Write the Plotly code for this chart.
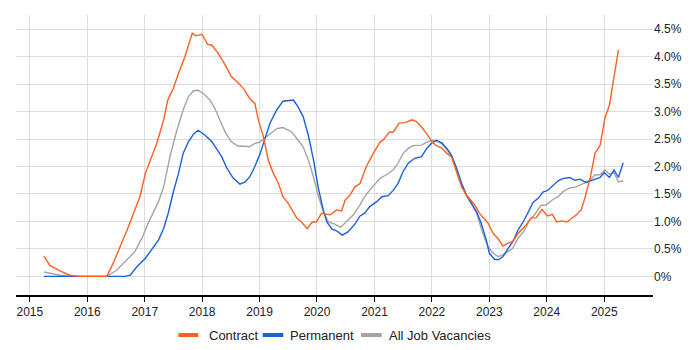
import plotly.graph_objects as go

# ---------------- data (percent of vacancies) ----------------
contract_dates = [
    "2015-04-01", "2015-05-08", "2015-07-12", "2015-09-12", "2015-11-14", "2016-05-05",
    "2016-06-14", "2016-07-28", "2016-09-10", "2016-12-01", "2017-01-05", "2017-03-18",
    "2017-05-01", "2017-05-27", "2017-07-01", "2017-08-04", "2017-09-13", "2017-10-30",
    "2017-11-21", "2018-01-01", "2018-02-03", "2018-03-04", "2018-04-13", "2018-05-27",
    "2018-07-06", "2018-08-19", "2018-09-21", "2018-10-30", "2018-12-02", "2018-12-24",
    "2019-01-26", "2019-02-25", "2019-03-29", "2019-05-01", "2019-05-30", "2019-07-02",
    "2019-08-26", "2019-09-24", "2019-10-31", "2019-12-02", "2019-12-28", "2020-01-30",
    "2020-03-25", "2020-05-04", "2020-06-06", "2020-06-28", "2020-07-27", "2020-08-29",
    "2020-10-01", "2020-11-10", "2020-12-24", "2021-02-06", "2021-02-24", "2021-04-06",
    "2021-05-01", "2021-06-07", "2021-07-13", "2021-08-29", "2021-09-24", "2021-10-27",
    "2021-11-29", "2022-01-01", "2022-02-03", "2022-03-04", "2022-04-06", "2022-05-05",
    "2022-06-07", "2022-07-09", "2022-08-08", "2022-10-01", "2022-10-30", "2022-12-24",
    "2023-01-26", "2023-02-25", "2023-03-29", "2023-05-01", "2023-05-30", "2023-07-02",
    "2023-08-22", "2023-09-24", "2023-10-27", "2023-12-02", "2024-01-05", "2024-02-07",
    "2024-03-04", "2024-04-06", "2024-05-08", "2024-06-07", "2024-07-09", "2024-08-08",
    "2024-09-02", "2024-10-05", "2024-11-03", "2024-12-06", "2025-01-05", "2025-02-03",
    "2025-03-01", "2025-04-01",
]
contract_values = [
    0.37, 0.20, 0.10, 0.02, 0.00, 0.00,
    0.24, 0.54, 0.84, 1.45, 1.88, 2.42,
    2.85, 3.21, 3.42, 3.70, 4.00, 4.43,
    4.38, 4.41, 4.23, 4.21, 4.06, 3.85,
    3.64, 3.52, 3.42, 3.24, 3.15, 2.85,
    2.54, 2.12, 1.88, 1.69, 1.45, 1.33,
    1.06, 0.99, 0.87, 0.99, 0.99, 1.15,
    1.12, 1.21, 1.19, 1.39, 1.47, 1.63,
    1.69, 2.00, 2.24, 2.45, 2.48, 2.63,
    2.63, 2.79, 2.80, 2.85, 2.82, 2.72,
    2.60, 2.45, 2.37, 2.34, 2.24, 2.18,
    1.88, 1.63, 1.48, 1.30, 1.15, 0.97,
    0.78, 0.69, 0.55, 0.61, 0.63, 0.78,
    0.93, 1.06, 1.07, 1.22, 1.10, 1.13,
    0.99, 1.01, 0.99, 1.06, 1.12, 1.22,
    1.45, 1.81, 2.24, 2.39, 2.88, 3.12,
    3.61, 4.12,
]

permanent_dates = [
    "2015-04-01", "2016-08-28", "2016-10-01", "2016-11-10", "2017-01-05", "2017-02-14",
    "2017-03-29", "2017-05-01", "2017-05-30", "2017-07-02", "2017-08-04", "2017-09-02",
    "2017-10-05", "2017-11-07", "2017-12-06", "2018-01-19", "2018-03-04", "2018-04-01",
    "2018-05-05", "2018-06-07", "2018-07-17", "2018-08-29", "2018-10-01", "2018-10-30",
    "2018-12-02", "2019-01-05", "2019-02-07", "2019-03-08", "2019-04-20", "2019-05-30",
    "2019-08-04", "2019-09-02", "2019-10-05", "2019-11-07", "2019-12-10", "2020-01-08",
    "2020-02-10", "2020-03-04", "2020-04-06", "2020-05-05", "2020-06-10", "2020-07-16",
    "2020-08-29", "2020-10-01", "2020-10-30", "2020-12-02", "2021-01-15", "2021-02-17",
    "2021-03-29", "2021-05-01", "2021-05-30", "2021-07-02", "2021-08-04", "2021-09-13",
    "2021-10-27", "2021-11-29", "2022-01-01", "2022-01-30", "2022-03-04", "2022-04-06",
    "2022-05-05", "2022-06-07", "2022-07-09", "2022-08-08", "2022-09-10", "2022-10-12",
    "2022-11-10", "2022-12-13", "2023-01-01", "2023-02-03", "2023-02-28", "2023-03-29",
    "2023-05-01", "2023-05-30", "2023-07-02", "2023-08-04", "2023-09-02", "2023-10-05",
    "2023-11-07", "2023-12-10", "2024-01-05", "2024-02-10", "2024-03-14", "2024-04-12",
    "2024-05-27", "2024-06-28", "2024-07-31", "2024-09-06", "2024-10-05", "2024-11-14",
    "2024-12-06", "2025-01-01", "2025-02-03", "2025-03-04", "2025-04-01", "2025-05-01",
]
permanent_values = [
    0.00, 0.00, 0.02, 0.17, 0.33, 0.48,
    0.66, 0.87, 1.15, 1.54, 1.88, 2.24,
    2.45, 2.59, 2.66, 2.57, 2.45, 2.33,
    2.18, 1.97, 1.79, 1.68, 1.72, 1.81,
    2.00, 2.24, 2.54, 2.79, 3.03, 3.19,
    3.21, 3.09, 2.91, 2.57, 2.12, 1.63,
    1.21, 0.99, 0.86, 0.83, 0.75, 0.81,
    0.95, 1.10, 1.15, 1.27, 1.36, 1.45,
    1.47, 1.57, 1.69, 1.91, 2.06, 2.15,
    2.18, 2.33, 2.43, 2.48, 2.43, 2.33,
    2.21, 1.97, 1.69, 1.48, 1.33, 1.18,
    0.97, 0.66, 0.42, 0.31, 0.30, 0.36,
    0.51, 0.63, 0.84, 0.99, 1.15, 1.34,
    1.42, 1.54, 1.56, 1.66, 1.74, 1.78,
    1.80, 1.75, 1.77, 1.71, 1.74, 1.77,
    1.80, 1.89, 1.80, 1.94, 1.80, 2.07,
]

all_dates = [
    "2015-04-01", "2015-07-12", "2015-10-05", "2016-05-05", "2016-07-05", "2016-09-10",
    "2016-10-30", "2016-12-13", "2017-01-23", "2017-03-29", "2017-05-01", "2017-06-10",
    "2017-07-24", "2017-09-02", "2017-10-05", "2017-11-07", "2017-12-06", "2018-01-08",
    "2018-02-21", "2018-03-22", "2018-04-24", "2018-05-27", "2018-07-05", "2018-08-19",
    "2018-10-01", "2018-10-30", "2018-12-02", "2019-01-05", "2019-02-07", "2019-03-08",
    "2019-04-20", "2019-05-30", "2019-07-24", "2019-08-26", "2019-10-05", "2019-11-07",
    "2019-12-10", "2020-01-08", "2020-02-10", "2020-03-14", "2020-04-24", "2020-05-30",
    "2020-07-05", "2020-08-19", "2020-10-01", "2020-10-30", "2020-12-02", "2021-01-05",
    "2021-02-07", "2021-03-18", "2021-05-01", "2021-05-30", "2021-07-02", "2021-08-04",
    "2021-09-02", "2021-10-27", "2021-12-02", "2022-01-08", "2022-03-04", "2022-04-06",
    "2022-05-05", "2022-06-07", "2022-07-09", "2022-08-08", "2022-09-10", "2022-10-12",
    "2022-11-21", "2022-12-24", "2023-01-26", "2023-02-25", "2023-03-29", "2023-05-01",
    "2023-05-30", "2023-07-02", "2023-08-15", "2023-09-13", "2023-10-16", "2023-11-24",
    "2023-12-28", "2024-02-10", "2024-03-14", "2024-04-12", "2024-05-27", "2024-07-05",
    "2024-08-08", "2024-09-13", "2024-10-12", "2024-11-03", "2024-12-06", "2025-01-05",
    "2025-02-03", "2025-03-04", "2025-04-01", "2025-05-01",
]
all_values = [
    0.08, 0.02, 0.00, 0.00, 0.11, 0.30,
    0.45, 0.69, 0.97, 1.36, 1.63, 2.18,
    2.66, 3.03, 3.27, 3.38, 3.39, 3.33,
    3.21, 3.06, 2.85, 2.63, 2.45, 2.37,
    2.37, 2.36, 2.42, 2.45, 2.53, 2.60,
    2.69, 2.71, 2.63, 2.51, 2.36, 2.12,
    1.81, 1.48, 1.18, 0.99, 0.95, 0.89,
    0.99, 1.12, 1.30, 1.45, 1.57, 1.69,
    1.79, 1.85, 1.94, 2.06, 2.24, 2.33,
    2.38, 2.39, 2.45, 2.48, 2.42, 2.31,
    2.19, 1.95, 1.68, 1.48, 1.32, 1.15,
    0.78, 0.54, 0.42, 0.36, 0.39, 0.45,
    0.51, 0.69, 0.84, 1.03, 1.12, 1.29,
    1.30, 1.40, 1.45, 1.54, 1.61, 1.63,
    1.68, 1.72, 1.78, 1.85, 1.85, 1.94,
    1.86, 1.89, 1.72, 1.74,
]

series_names = ["Contract", "Permanent", "All Job Vacancies"]
y_tick_values = [0, 0.5, 1.0, 1.5, 2.0, 2.5, 3.0, 3.5, 4.0, 4.5]
y_tick_labels = ["0%", "0.5%", "1.0%", "1.5%", "2.0%", "2.5%", "3.0%", "3.5%", "4.0%", "4.5%"]

# ---------------- styling ----------------
colors = {"Contract": "#ff5f1f", "Permanent": "#1a5fe0", "All Job Vacancies": "#a4a4a4"}
FONT = "Liberation Sans, Arial, sans-serif"

fig = go.Figure()

series = [
    ("All Job Vacancies", all_dates, all_values),
    ("Permanent", permanent_dates, permanent_values),
    ("Contract", contract_dates, contract_values),
]
for name, xs, ys in series:
    fig.add_trace(go.Scatter(
        x=xs, y=ys, mode="lines", name=name, showlegend=False,
        line=dict(color=colors[name], width=1.4),
        hoverinfo="x+y+name",
    ))

# custom legend below the plot: short thick swatch + label (paper coordinates)
legend_y = -0.143
swatch_x = {"Contract": (0.2548, 0.2862), "Permanent": (0.3873, 0.4196),
            "All Job Vacancies": (0.5416, 0.5741)}
label_x = {"Contract": 0.3003, "Permanent": 0.4270, "All Job Vacancies": 0.5819}
for name in series_names:
    x0, x1 = swatch_x[name]
    fig.add_shape(type="line", xref="paper", yref="paper",
                  x0=x0, x1=x1, y0=legend_y, y1=legend_y,
                  line=dict(color=colors[name], width=4))
    fig.add_annotation(xref="paper", yref="paper", x=label_x[name], y=legend_y,
                       text=name, showarrow=False, xanchor="left", yanchor="middle",
                       font=dict(family=FONT, size=13, color="#222"))

# page body has an 8px margin, so the figure is sized to the visible area
fig.update_layout(
    width=692, height=342,
    margin=dict(l=8, r=47, t=7, b=55, autoexpand=False),
    paper_bgcolor="white", plot_bgcolor="white",
    font=dict(family=FONT, size=12, color="#222"),
    showlegend=False,
    xaxis=dict(
        type="date",
        range=["2014-10-05", "2025-11-07"],
        dtick="M12", tick0="2015-01-01", tickformat="%Y",
        showgrid=True, gridcolor="#dddddd", gridwidth=1,
        showline=True, linecolor="#000", linewidth=1.5,
        ticks="outside", ticklen=5, tickcolor="#000", tickwidth=1,
        tickfont=dict(family=FONT, size=12, color="#222"),
        zeroline=False,
    ),
    yaxis=dict(
        side="right",
        range=[-0.34, 4.76],
        tickvals=y_tick_values, ticktext=y_tick_labels,
        showgrid=True, gridcolor="#dddddd", gridwidth=1,
        showline=False, zeroline=False, ticks="",
        tickfont=dict(family=FONT, size=12, color="#222"),
    ),
)

fig.write_html("out.html")
